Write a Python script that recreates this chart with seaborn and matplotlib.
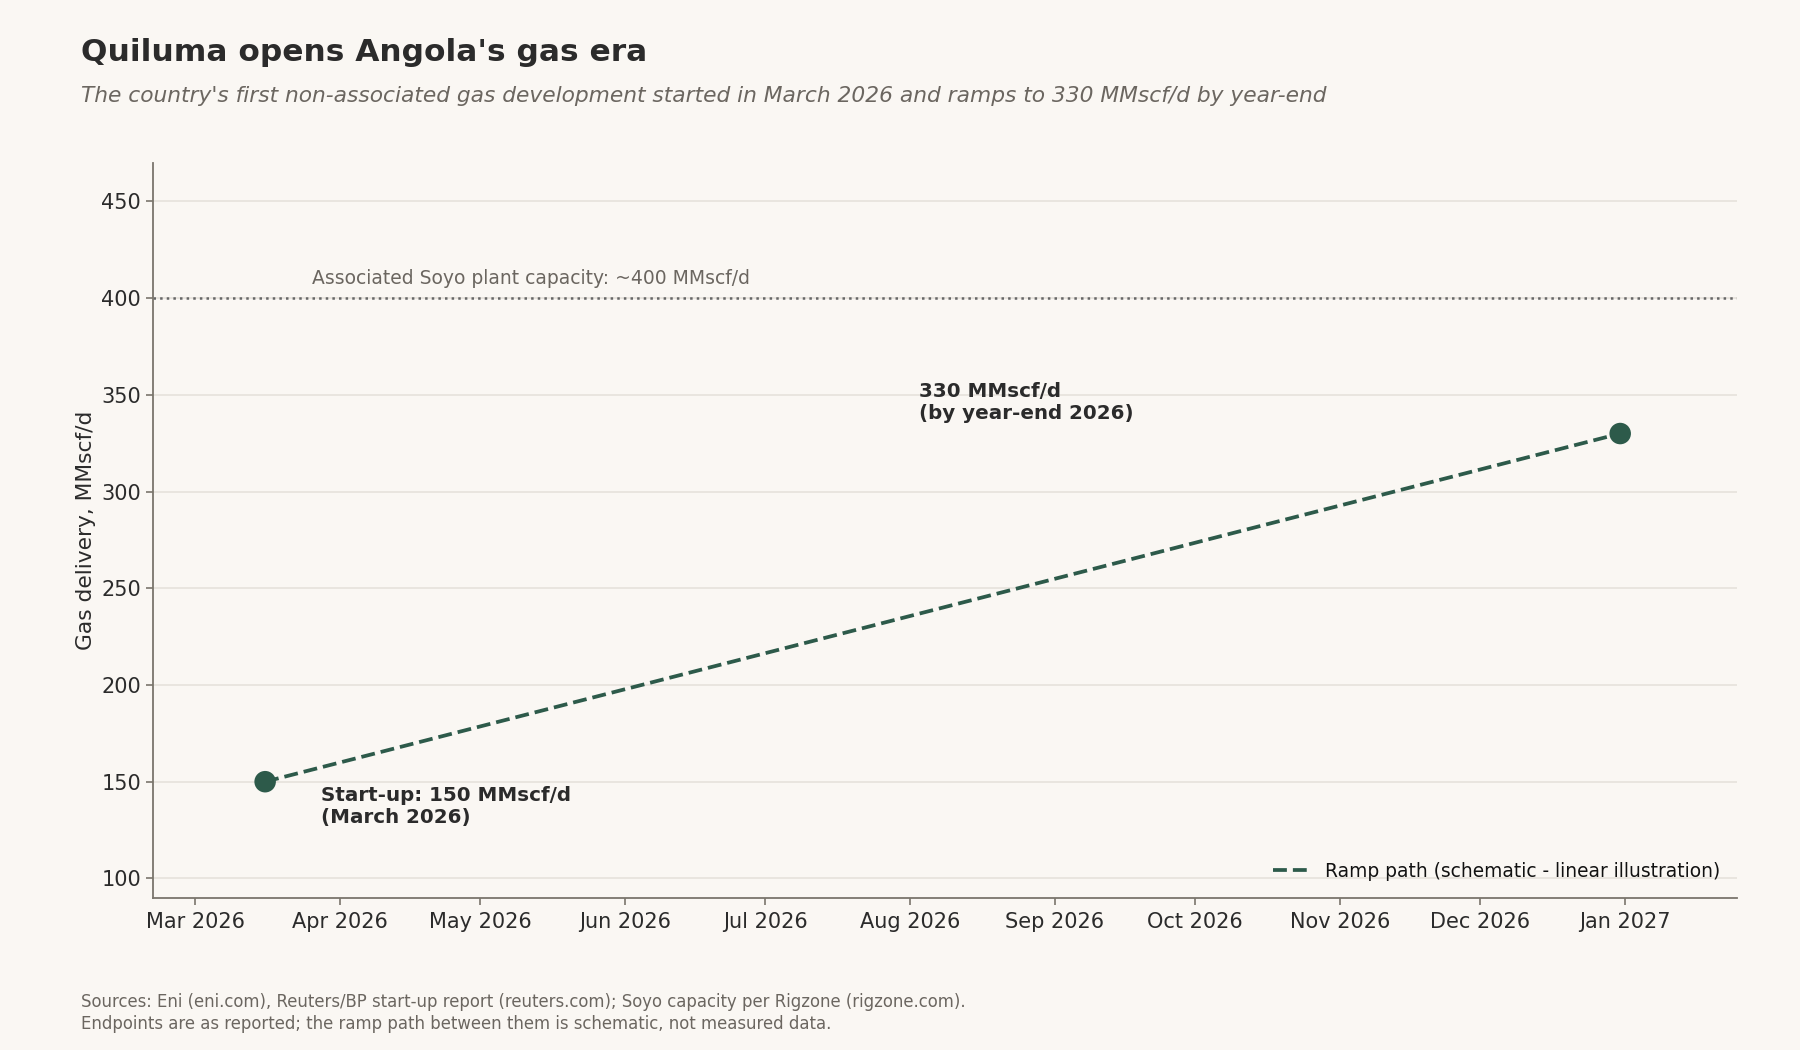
import pandas as pd
import matplotlib.pyplot as plt
import matplotlib.dates as mdates
import seaborn as sns

# endpoints as reported
dates = pd.to_datetime(["2026-03-16", "2026-12-31"])
delivery = [150, 330]
soyo_capacity = 400

ramp_df = pd.DataFrame({"date": dates, "mmscfd": delivery})

BG = "#faf7f3"
GREEN = "#2d5a4a"
TEXT = "#2b2b2b"
GREY = "#6b6660"

sns.set_theme(style="white")
plt.rcParams["font.family"] = ["DejaVu Sans"]

fig = plt.figure(figsize=(18, 10.5), dpi=100, facecolor=BG)
ax = fig.add_axes([0.085, 0.145, 0.88, 0.70], facecolor=BG)

# gridlines + reference line
ax.yaxis.grid(True, color="#e6e2dc", linewidth=1.2)
ax.set_axisbelow(True)
ax.axhline(soyo_capacity, color="#666666", linestyle=":", linewidth=1.8, zorder=2)
ax.text(pd.Timestamp("2026-03-26"), soyo_capacity + 5,
        "Associated Soyo plant capacity: ~400 MMscf/d",
        fontsize=13.5, color=GREY, va="bottom", ha="left")

# ramp path
sns.lineplot(data=ramp_df, x="date", y="mmscfd", ax=ax, color=GREEN,
             linestyle="--", linewidth=2.7,
             label="Ramp path (schematic - linear illustration)", zorder=3)
sns.scatterplot(data=ramp_df, x="date", y="mmscfd", ax=ax, color=GREEN,
                s=240, edgecolor="none", zorder=4, legend=False)

# endpoint annotations
ax.annotate("Start-up: 150 MMscf/d\n(March 2026)",
            xy=(dates[0], delivery[0]), xytext=(40, -3),
            textcoords="offset points", fontsize=14.3, fontweight="bold",
            color=TEXT, va="top", ha="left")
ax.text(pd.Timestamp("2026-08-03"), 346, "330 MMscf/d\n(by year-end 2026)",
        fontsize=14.3, fontweight="bold", color=TEXT, va="center", ha="left")

ax.set_xlim(pd.Timestamp("2026-02-20"), pd.Timestamp("2027-01-25"))
ax.set_ylim(90, 470)
ax.set_yticks([100, 150, 200, 250, 300, 350, 400, 450])
ax.xaxis.set_major_locator(mdates.MonthLocator())
ax.xaxis.set_major_formatter(mdates.DateFormatter("%b %Y"))

ax.set_xlabel("")
ax.set_ylabel("Gas delivery, MMscf/d", fontsize=15.7, color=TEXT)
ax.tick_params(axis="both", labelsize=15, colors=TEXT, length=5,
               width=1.2, color="#7a756c", bottom=True, left=True)
ax.tick_params(axis="x", pad=5)

sns.despine(ax=ax)
for side in ["left", "bottom"]:
    ax.spines[side].set_color("#7a756c")
    ax.spines[side].set_linewidth(1.3)

leg = ax.legend(loc="lower right", frameon=False, fontsize=13.4)
for t in leg.get_texts():
    t.set_color("#111111")

# titles and notes
fig.text(0.045, 0.950, "Quiluma opens Angola's gas era", fontsize=22.5,
         fontweight="bold", color=TEXT, ha="left", va="center")
fig.text(0.045, 0.909,
         "The country's first non-associated gas development started in March 2026 "
         "and ramps to 330 MMscf/d by year-end",
         fontsize=15.7, style="italic", color=GREY, ha="left", va="center")
fig.text(0.045, 0.035,
         "Sources: Eni (eni.com), Reuters/BP start-up report (reuters.com); "
         "Soyo capacity per Rigzone (rigzone.com).\n"
         "Endpoints are as reported; the ramp path between them is schematic, "
         "not measured data.",
         fontsize=11.9, color=GREY, ha="left", va="center", linespacing=1.3)

fig.savefig("out.png", dpi=100, facecolor=BG)
